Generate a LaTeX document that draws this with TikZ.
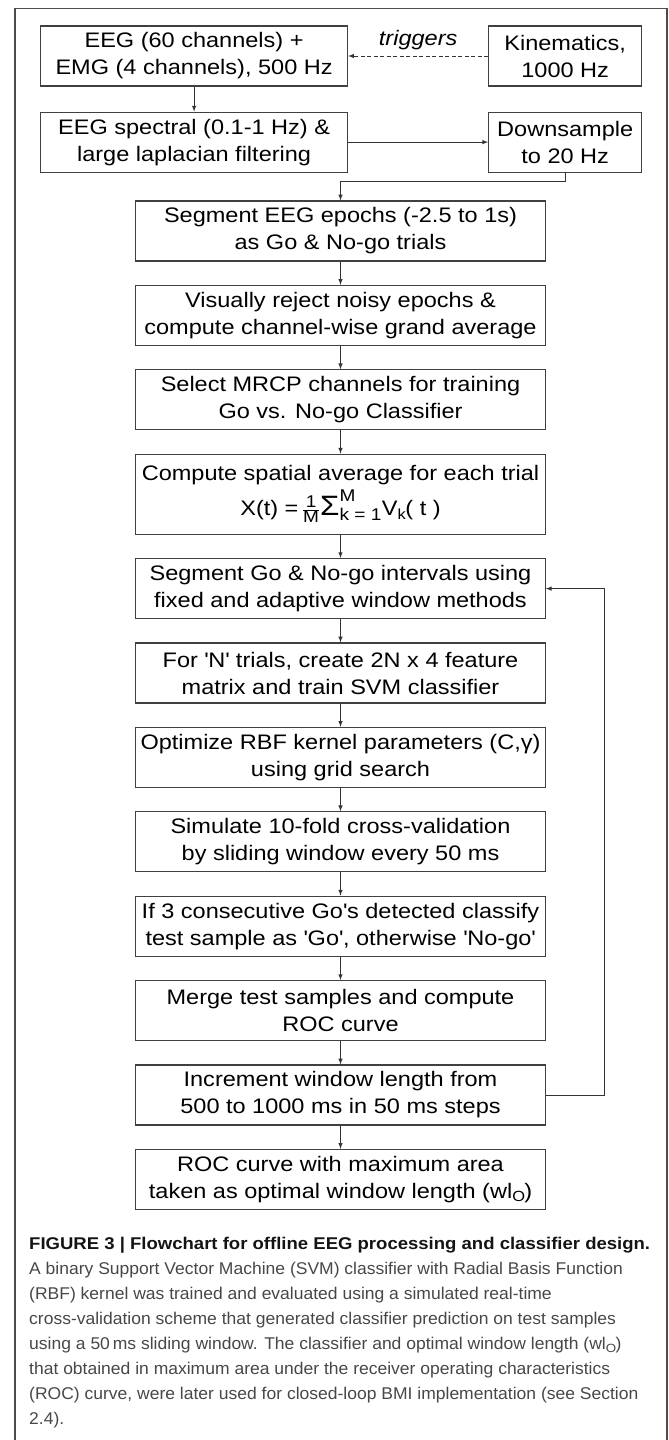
\documentclass[tikz,border=0pt]{standalone}
\usepackage{fontspec}
\setmainfont{Liberation Sans}[FakeStretch=1.12]
\newfontfamily\capfont{Liberation Sans}[FakeStretch=1.03, BoldFeatures={FakeStretch=1.09}]
\usetikzlibrary{positioning}
\def\wlo{(wl$_{\mathrm{O}}$)}
\def\q{\textquotesingle}
\def\sm#1{\mbox{\fontsize{17}{17}\selectfont #1}}

\begin{document}
\begin{tikzpicture}[x=1pt, y=-1pt, >=latex, node distance=23.3pt,
		box/.style={draw=black!75, line width=1.1pt, align=center, inner sep=0pt,
			minimum width=409.5pt, minimum height=60pt, font=\fontsize{21}{27}\selectfont},
		srcbox/.style={box, minimum width=307pt},
		sidebox/.style={box, minimum width=153pt},
		link/.style={->, draw=black!80, line width=1pt}]
	\useasboundingbox (0,0) rectangle (669,1440);
	% outer frame, open at the bottom
	\draw[black!70, line width=1.2pt] (15,1450) |- (667,8.5) -- (667,1450);

	% acquisition and preprocessing
	\node[srcbox] (eeg) at (194.1,56) {EEG (60 channels) +\\EMG (4 channels), 500 Hz};
	\node[sidebox, right=140pt of eeg] (kin) {Kinematics,\\1000 Hz};
	\node[srcbox, below=25pt of eeg] (spec) {EEG spectral (0.1-1 Hz) \&\\large laplacian filtering};
	\node[sidebox, right=140pt of spec] (down) {Downsample\\to 20 Hz};

	% main column
	\node[box] (seg) at (340.5,231) {Segment EEG epochs (-2.5 to 1s)\\as Go \& No-go trials};
	\node[box, below=of seg] (rej) {Visually reject noisy epochs \&\\compute channel-wise grand average};
	\node[box, below=of rej] (sel) {Select MRCP channels for training\\Go vs. No-go Classifier};
	\node[box, below=of sel, minimum height=80pt] (avg) {Compute spatial average for each trial\\[4pt]
		$\mbox{X(t) =}\,\frac{\sm{1}}{\sm{M}}\mbox{\fontsize{28}{28}\selectfont Σ}^{\sm{M}}_{\sm{k = 1}}\mbox{V}_{\mathrm{k}}\mbox{( t )}$};
	\node[box, below=of avg] (win) {Segment Go \& No-go intervals using\\fixed and adaptive window methods};
	\node[box, below=of win] (feat) {For \q N\q{} trials, create 2N x 4 feature\\matrix and train SVM classifier};
	\node[box, below=of feat] (opt) {Optimize RBF kernel parameters (C,γ)\\using grid search};
	\node[box, below=of opt] (sim) {Simulate 10-fold cross-validation\\by sliding window every 50 ms};
	\node[box, below=of sim] (cls) {If 3 consecutive Go\q s detected classify\\test sample as \q Go\q, otherwise \q No-go\q};
	\node[box, below=of cls] (roc) {Merge test samples and compute\\ROC curve};
	\node[box, below=of roc] (inc) {Increment window length from\\500 to 1000 ms in 50 ms steps};
	\node[box, below=of inc] (best) {ROC curve with maximum area\\taken as optimal window length \wlo};

	\draw[link, dashed, dash pattern=on 4pt off 2.5pt] (kin) -- node[above=2pt, font=\fontsize{21}{27}\selectfont\itshape] {triggers} (eeg);
	\draw[link] (eeg) -- (spec);
	\draw[link] (spec) -- (down);
	\draw[link] (down.south) -- ++(0,9) -| (seg.north);
	\draw[link] (seg) -- (rej);
	\draw[link] (rej) -- (sel);
	\draw[link] (sel) -- (avg);
	\draw[link] (avg) -- (win);
	\draw[link] (win) -- (feat);
	\draw[link] (feat) -- (opt);
	\draw[link] (opt) -- (sim);
	\draw[link] (sim) -- (cls);
	\draw[link] (cls) -- (roc);
	\draw[link] (roc) -- (inc);
	\draw[link] (inc) -- (best);
	\draw[link] (inc.east) -- ++(59,0) |- (win.east);

	% caption
	\node[anchor=north west, align=left, inner sep=0pt, text=black!72,
		font=\capfont\fontsize{17}{25}\selectfont] (caption) at (29,1237) {%
		\textcolor{black!92}{\textbf{FIGURE 3 | Flowchart for offline EEG processing and classifier design.}}\\
		A binary Support Vector Machine (SVM) classifier with Radial Basis Function\\
		(RBF) kernel was trained and evaluated using a simulated real-time\\
		cross-validation scheme that generated classifier prediction on test samples\\
		using a 50\,ms sliding window. The classifier and optimal window length \wlo\\
		that obtained in maximum area under the receiver operating characteristics\\
		(ROC) curve, were later used for closed-loop BMI implementation (see Section\\
		2.4).};
\end{tikzpicture}
\end{document}
